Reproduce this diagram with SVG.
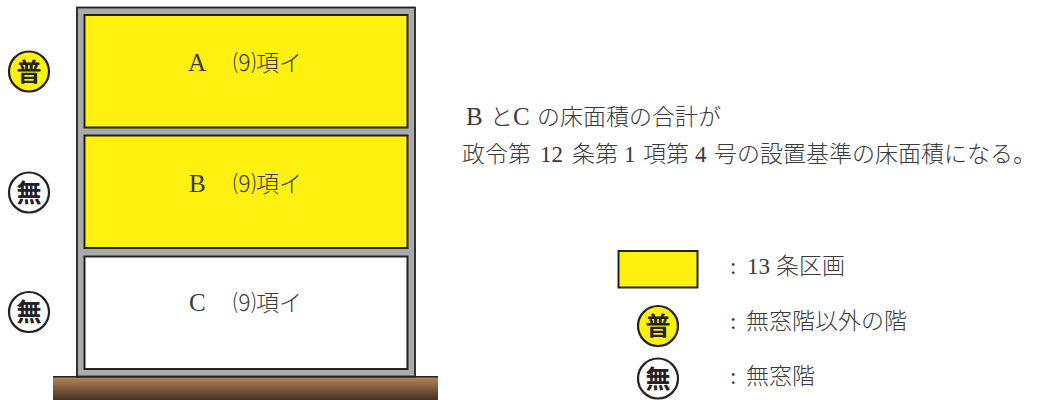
<svg xmlns="http://www.w3.org/2000/svg" width="1040" height="400" viewBox="0 0 1040 400">
<style>
text{font-family:"Liberation Serif","Noto Sans CJK JP",serif;fill:#3a3a3a;font-size:23px;font-weight:300}
.l{font-size:25px}
.room{stroke:#222;stroke-width:2}
.y{fill:#fff10f}
.badge{stroke:#222;stroke-width:2.200}
.bt{font-family:"Noto Sans CJK JP",sans-serif;font-weight:700;font-size:25px;fill:#222;text-anchor:middle}
</style>
<defs><linearGradient id="g" x1="0" y1="0" x2="0" y2="1"><stop offset="0" stop-color="#b5875a"/><stop offset="1" stop-color="#46301f"/></linearGradient></defs>
<g id="ground"><rect x="53" y="377" width="385" height="23" fill="url(#g)"/><path d="M53 376.700H438" stroke="#222" stroke-width="1.500"/></g>
<g id="building"><rect x="77" y="7.500" width="338" height="369" fill="#aaa" stroke="#222" stroke-width="1.800"/></g>
<g id="room-a"><rect class="room y" x="84.500" y="15" width="323" height="112.500"/><text class="l" x="188" y="71">A</text><text x="233" y="71">⑼項イ</text></g>
<g id="room-b"><rect class="room y" x="84.500" y="135.500" width="323" height="112.500"/><text class="l" x="189" y="192">B</text><text x="233" y="192">⑼項イ</text></g>
<g id="room-c"><rect class="room" fill="#fff" x="84.500" y="256.500" width="323" height="112.500"/><text class="l" x="189" y="311">C</text><text x="233" y="311">⑼項イ</text></g>
<g id="badge-a"><circle class="badge y" cx="29" cy="71.500" r="20"/><text class="bt" x="29" y="80.500">普</text></g>
<g id="badge-b"><circle class="badge" fill="#fff" cx="29" cy="192.500" r="20"/><text class="bt" x="29" y="201.500">無</text></g>
<g id="badge-c"><circle class="badge" fill="#fff" cx="29" cy="312" r="20"/><text class="bt" x="29" y="321">無</text></g>
<g id="note"><text class="l" x="466" y="125">B</text><text x="490" y="125">と</text><text class="l" x="513" y="125">C</text><text x="537" y="125">の床面積の合計が</text>
<text x="462" y="162">政令第</text><text x="540" y="162">12</text><text x="572" y="162">条第</text><text x="624" y="162">1</text><text x="643" y="162">項第</text><text x="695" y="162">4</text><text x="714" y="162">号の設置基準の床面積になる。</text></g>
<g id="legend-zone"><rect class="room y" x="618.500" y="251" width="79" height="36.500"/><text x="730" y="274">:</text><text x="747" y="274">13</text><text x="776" y="274">条区画</text></g>
<g id="legend-fu"><circle class="badge y" cx="658" cy="326" r="20"/><text class="bt" x="658" y="335">普</text><text x="730" y="329">:</text><text x="746" y="329">無窓階以外の階</text></g>
<g id="legend-mu"><circle class="badge" fill="#fff" cx="658" cy="378.500" r="20"/><text class="bt" x="658" y="387.500">無</text><text x="730" y="384">:</text><text x="746" y="384">無窓階</text></g>
</svg>
